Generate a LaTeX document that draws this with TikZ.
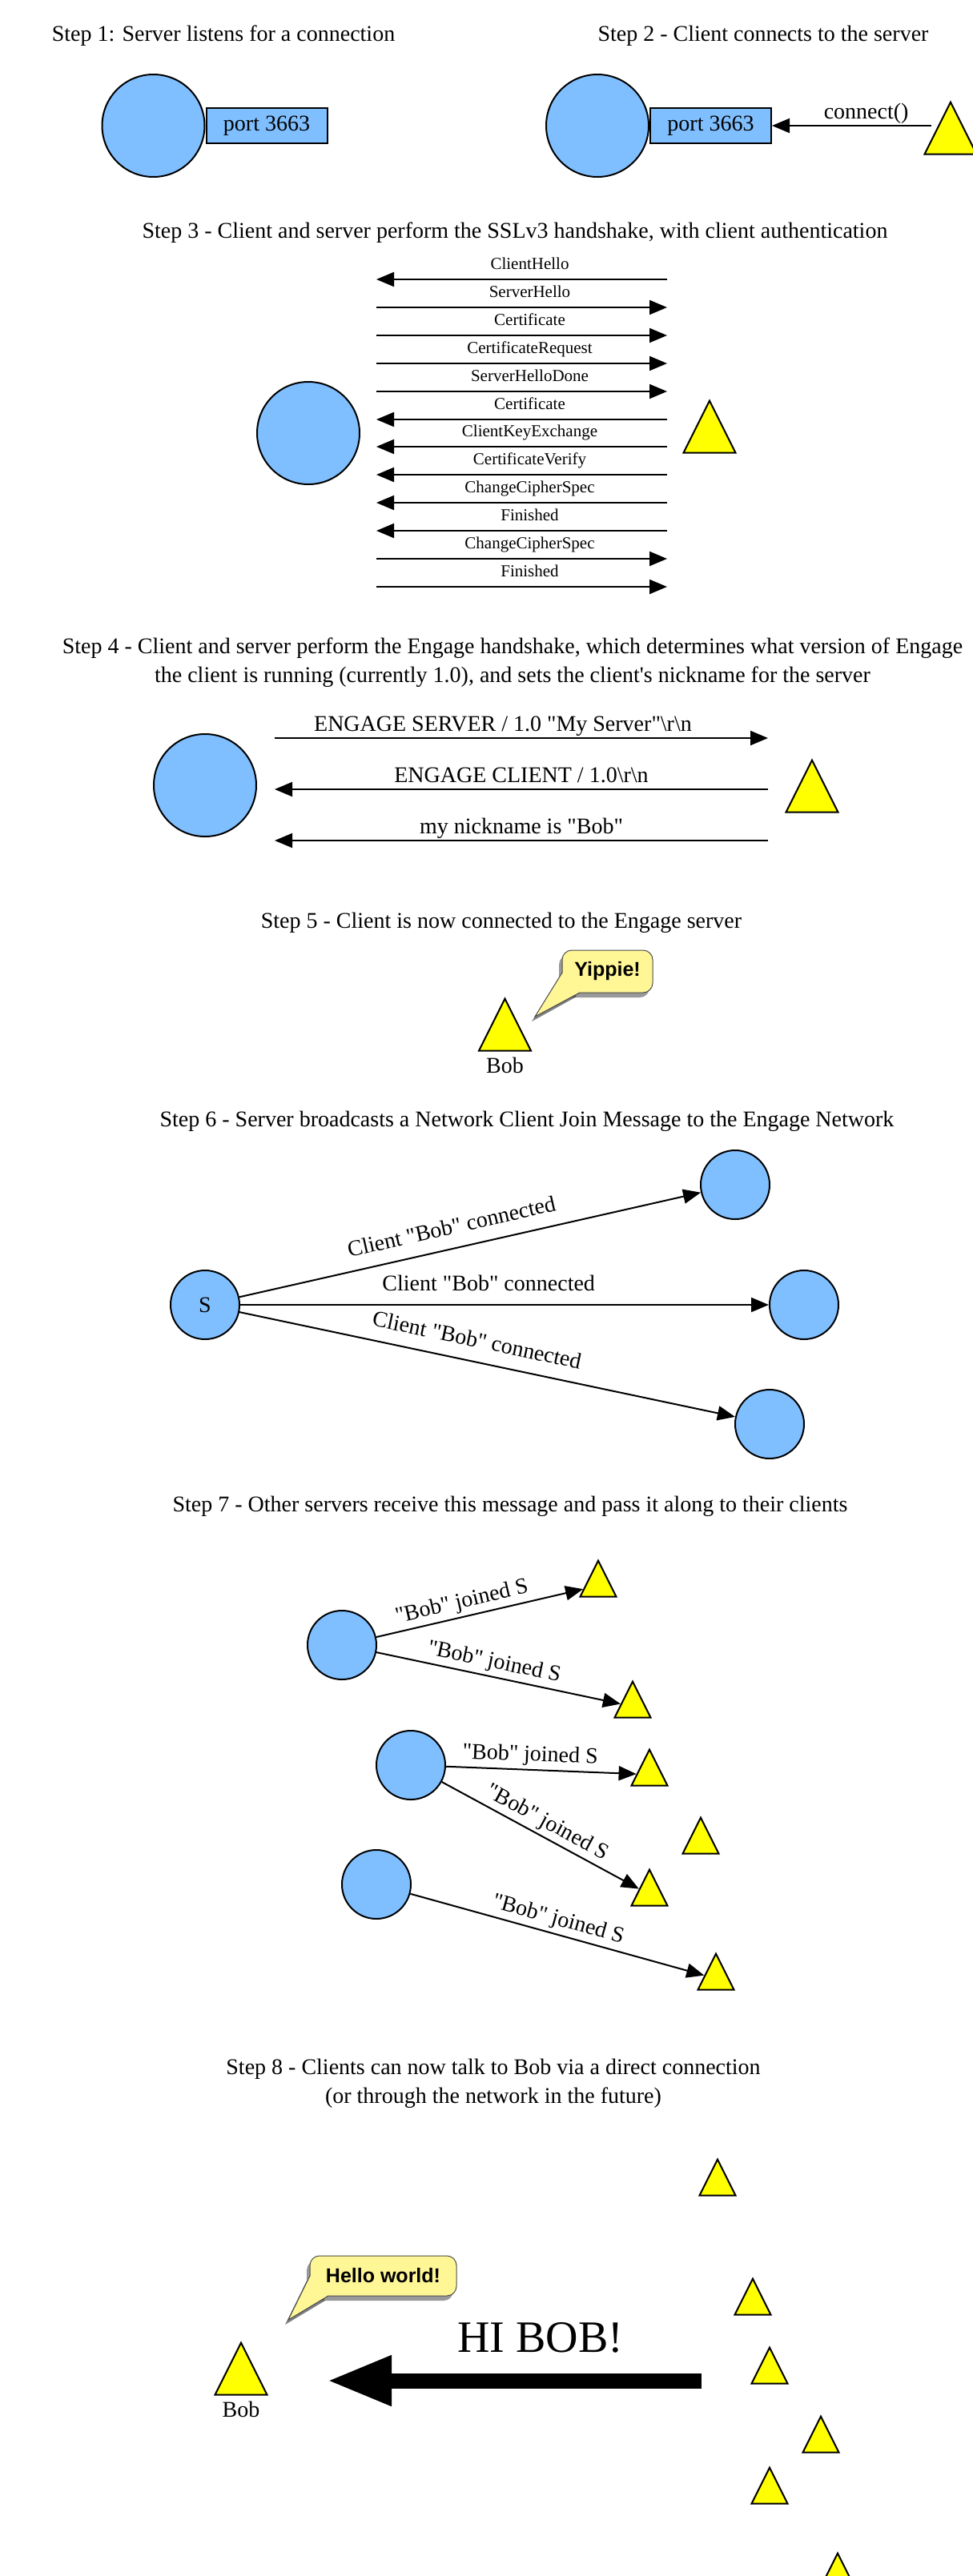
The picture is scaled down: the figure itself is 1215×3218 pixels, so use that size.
\documentclass[tikz,border=0pt]{standalone}
\usepackage{fontspec}
\setmainfont{Liberation Serif}[Ligatures=TeXOff]
\newfontfamily\bubblefont{Liberation Sans}
\usetikzlibrary{arrows.meta,positioning,shapes.geometric,shadows}
\definecolor{srvblue}{RGB}{128,191,255}
\definecolor{cliyellow}{RGB}{255,255,0}
\definecolor{bubbleyellow}{RGB}{255,246,150}

\begin{document}
\begin{tikzpicture}[x=1pt,y=-1pt,font=\fontsize{28}{36}\selectfont]
\tikzstyle{every node}+=[inner sep=0pt]
\tikzstyle{srv}=[circle,draw=black,fill=srvblue,line width=2pt,minimum size=128pt]
\tikzstyle{srvsmall}=[srv,minimum size=86pt]
\tikzstyle{port}=[rectangle,draw=black,fill=srvblue,line width=2pt,minimum width=151pt,minimum height=44pt]
\tikzstyle{cli}=[isosceles triangle,isosceles triangle stretches,shape border rotate=90,draw=black,fill=cliyellow,line width=2pt,minimum width=65pt,minimum height=65pt,anchor=apex]
\tikzstyle{clismall}=[cli,minimum width=45pt,minimum height=45pt]
\tikzstyle{msg}=[black,line width=2pt,-{Triangle[length=22pt,width=18pt]}]
\tikzstyle{ssl}=[font=\fontsize{21}{24}\selectfont,text depth=0pt,above=12pt,xshift=10pt]
\tikzstyle{lbl}=[text depth=0pt,above=8pt]
\tikzstyle{lbl6}=[sloped,text depth=0pt,above=17pt,pos=0.47]
\tikzstyle{lbl7}=[sloped,text depth=0pt,above=10pt]
\tikzstyle{bubble}=[rectangle,rounded corners=12pt,draw=black!70,line width=1pt,fill=bubbleyellow,font=\bubblefont\bfseries\fontsize{25}{30}\selectfont,drop shadow={shadow xshift=-4pt,shadow yshift=-6pt,fill=black!80,opacity=0.5}]
\useasboundingbox (0,0) rectangle (1215,3218);
\node (title1) at (279,45) {Step 1: Server listens for a connection};
\node[srv] (srv1) at (191.5,157) {};
\node[port,right=0pt of srv1] (port1) {port 3663};
\node (title2) at (953,45) {Step 2 - Client connects to the server};
\node[srv] (srv2) at (746,157) {};
\node[port,right=0pt of srv2] (port2) {port 3663};
\node[cli] (cli2) at (1187,125) {};
\draw[msg] (cli2.west |- port2.east) -- node[lbl,pos=0.41] {connect()} (port2.east);
\node (title3) at (643,291) {Step 3 - Client and server perform the SSLv3 handshake, with client authentication};
\node[srv] (srv3) at (385,541) {};
\node[cli] (cli3) at (886,498) {};
\coordinate (hs1) at (470,349); \coordinate (hc1) at (833,349);
\coordinate (hs2) at (470,384); \coordinate (hc2) at (833,384);
\coordinate (hs3) at (470,419); \coordinate (hc3) at (833,419);
\coordinate (hs4) at (470,454); \coordinate (hc4) at (833,454);
\coordinate (hs5) at (470,489); \coordinate (hc5) at (833,489);
\coordinate (hs6) at (470,524); \coordinate (hc6) at (833,524);
\coordinate (hs7) at (470,558); \coordinate (hc7) at (833,558);
\coordinate (hs8) at (470,593); \coordinate (hc8) at (833,593);
\coordinate (hs9) at (470,628); \coordinate (hc9) at (833,628);
\coordinate (hs10) at (470,663); \coordinate (hc10) at (833,663);
\coordinate (hs11) at (470,698); \coordinate (hc11) at (833,698);
\coordinate (hs12) at (470,733); \coordinate (hc12) at (833,733);
\draw[msg] (hc1) -- node[ssl] {ClientHello} (hs1);
\draw[msg] (hs2) -- node[ssl] {ServerHello} (hc2);
\draw[msg] (hs3) -- node[ssl] {Certificate} (hc3);
\draw[msg] (hs4) -- node[ssl] {CertificateRequest} (hc4);
\draw[msg] (hs5) -- node[ssl] {ServerHelloDone} (hc5);
\draw[msg] (hc6) -- node[ssl] {Certificate} (hs6);
\draw[msg] (hc7) -- node[ssl] {ClientKeyExchange} (hs7);
\draw[msg] (hc8) -- node[ssl] {CertificateVerify} (hs8);
\draw[msg] (hc9) -- node[ssl] {ChangeCipherSpec} (hs9);
\draw[msg] (hc10) -- node[ssl] {Finished} (hs10);
\draw[msg] (hs11) -- node[ssl] {ChangeCipherSpec} (hc11);
\draw[msg] (hs12) -- node[ssl] {Finished} (hc12);
\node[align=center] (title4) at (640,828) {Step 4 - Client and server perform the Engage handshake, which determines what version of Engage\\the client is running (currently 1.0), and sets the client's nickname for the server};
\node[srv] (srv4) at (256,981) {};
\node[cli] (cli4) at (1014,947) {};
\coordinate (es1) at (343,922); \coordinate (ec1) at (959,922);
\coordinate (es2) at (343,986); \coordinate (ec2) at (959,986);
\coordinate (es3) at (343,1050); \coordinate (ec3) at (959,1050);
\draw[msg] (es1) -- node[lbl,xshift=-23pt] {ENGAGE SERVER / 1.0 "My Server"\textbackslash r\textbackslash n} (ec1);
\draw[msg] (ec2) -- node[lbl] {ENGAGE CLIENT / 1.0\textbackslash r\textbackslash n} (es2);
\draw[msg] (ec3) -- node[lbl] {my nickname is "Bob"} (es3);
\node (title5) at (626,1153) {Step 5 - Client is now connected to the Engage server};
\node[cli] (bob5) at (630.5,1245) {};
\node[below=7pt of bob5] (bob5name) {Bob};
\fill[black,opacity=0.5] (698,1221) -- (664,1276) -- (720,1245) -- cycle;
\node[bubble,minimum width=113pt,minimum height=53pt] (yippie) at (758.5,1213.5) {Yippie!};
\fill[bubbleyellow] (702,1215) -- (668,1270) -- (724,1239.5) -- cycle;
\draw[black!70,line width=1pt] (702,1215) -- (668,1270) -- (724,1240);
\node (title6) at (658,1401) {Step 6 - Server broadcasts a Network Client Join Message to the Engage Network};
\node[srvsmall] (srvS) at (256,1630) {S};
\node[srvsmall] (net1) at (918,1480) {};
\node[srvsmall] (net2) at (1004,1630) {};
\node[srvsmall] (net3) at (961,1779) {};
\draw[msg] (srvS) -- node[lbl6] {Client "Bob" connected} (net1);
\draw[msg] (srvS) -- node[lbl6] {Client "Bob" connected} (net2);
\draw[msg] (srvS) -- node[lbl6] {Client "Bob" connected} (net3);
\node (title7) at (637,1882) {Step 7 - Other servers receive this message and pass it along to their clients};
\node[srvsmall] (srv7a) at (427,2055) {};
\node[srvsmall] (srv7b) at (513,2205) {};
\node[srvsmall] (srv7c) at (470,2354) {};
\node[clismall] (cli7a) at (747,1947) {};
\node[clismall] (cli7b) at (790,2098) {};
\node[clismall] (cli7c) at (811,2183) {};
\node[clismall] (cli7d) at (875,2268) {};
\node[clismall] (cli7e) at (811,2333) {};
\node[clismall] (cli7f) at (894,2438) {};
\draw[msg] (srv7a) -- node[lbl7,pos=0.43] {"Bob" joined S} (cli7a);
\draw[msg] (srv7a) -- node[lbl7,pos=0.47] {"Bob" joined S} (cli7b);
\draw[msg] (srv7b) -- node[lbl7,pos=0.44] {"Bob" joined S} (cli7c);
\draw[msg] (srv7b) -- node[lbl7,pos=0.5] {"Bob" joined S} (cli7e);
\draw[msg] (srv7c) -- node[lbl7,pos=0.49] {"Bob" joined S} (cli7f);
\node[align=center] (title8) at (616,2603) {Step 8 - Clients can now talk to Bob via a direct connection\\(or through the network in the future)};
\node[clismall] (cli8a) at (896,2695) {};
\node[clismall] (cli8b) at (940,2844) {};
\node[clismall] (cli8c) at (961,2930) {};
\node[clismall] (cli8d) at (1025,3016) {};
\node[clismall] (cli8e) at (961,3080) {};
\node[clismall] (cli8f) at (1046,3187) {};
\node[cli] (bob8) at (301,2924) {};
\node[below=7pt of bob8] (bob8name) {Bob};
\fill[black,opacity=0.5] (383,2849) -- (356,2904) -- (406,2874) -- cycle;
\node[bubble,minimum width=183pt,minimum height=50pt] (hello) at (478.5,2843) {Hello world!};
\fill[bubbleyellow] (387,2843) -- (360,2898) -- (410,2867.5) -- cycle;
\draw[black!70,line width=1pt] (387,2843) -- (360,2898) -- (410,2868);
\coordinate (hifrom) at (876,2974); \coordinate (hito) at (408,2974);
\draw[line width=19pt,-{Triangle[length=81pt,width=58pt]}] (hifrom) -- node[pos=0.43,above=26pt,text depth=0pt,font=\fontsize{56}{60}\selectfont] (hibob) {HI BOB!} (hito);
\end{tikzpicture}
\end{document}
